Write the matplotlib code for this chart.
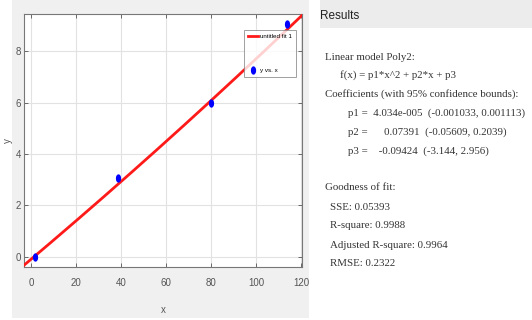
import numpy as np
import matplotlib.pyplot as plt
from matplotlib.patches import Rectangle

# data points
x_data = [1.8, 38.8, 79.8, 114.0]
y_data = [0.0, 3.05, 5.98, 9.05]

# fitted poly2 coefficients
p1, p2, p3 = 4.034e-05, 0.07391, -0.09424

xticks = [0, 20, 40, 60, 80, 100, 120]
yticks = [0, 2, 4, 6, 8]

result_lines = [
    ("Linear model Poly2:", 325, 57),
    ("f(x) = p1*x^2 + p2*x + p3", 340, 75),
    ("Coefficients (with 95% confidence bounds):", 325, 94),
    ("p1 =  4.034e-005  (-0.001033, 0.001113)", 348, 113),
    ("p2 =      0.07391  (-0.05609, 0.2039)", 348, 132),
    ("p3 =    -0.09424  (-3.144, 2.956)", 348, 151),
    ("Goodness of fit:", 325, 188),
    ("SSE: 0.05393", 330, 207),
    ("R-square: 0.9988", 330, 226),
    ("Adjusted R-square: 0.9964", 330, 245),
    ("RMSE: 0.2322", 330, 264),
]

W, H = 532, 320
fig = plt.figure(figsize=(W / 100, H / 100), dpi=100)
fig.patch.set_facecolor('white')

def px(x0, y0, x1, y1):
    # pixel box (top-left origin) -> figure fraction rect
    return [x0 / W, 1 - y1 / H, (x1 - x0) / W, (y1 - y0) / H]

# gray panel behind the plot
fig.patches.append(Rectangle((12 / W, 1 - 318 / H), (309 - 12) / W, 318 / H,
                             transform=fig.transFigure, facecolor='#f0f0f0',
                             edgecolor='none', zorder=-10))
# results header band
fig.patches.append(Rectangle((320 / W, 1 - 28 / H), (W - 320) / W, 28 / H,
                             transform=fig.transFigure, facecolor='#ececec',
                             edgecolor='none', zorder=-10))

tick_font = ['Liberation Sans Narrow', 'Liberation Sans', 'DejaVu Sans']
ax = fig.add_axes(px(24, 14, 302, 267))
ax.set_facecolor('white')

xx = np.linspace(-3.2, 121, 200)
ax.plot(xx, p1 * xx**2 + p2 * xx + p3, color='#ff1a1a', lw=2.0, label='untitled fit 1', zorder=3)

ell = np.linspace(0, 2 * np.pi, 30)
ell_marker = np.column_stack([0.55 * np.cos(ell), np.sin(ell)])
ax.plot(x_data, y_data, linestyle='none', marker=ell_marker, markersize=5,
        color='#0000ff', label='y vs. x', zorder=4)

ax.set_xlim(-3.2, 120.5)
ax.set_ylim(-0.4, 9.45)
ax.set_xticks(xticks)
ax.set_yticks(yticks)
ax.grid(True, color='#e2e2e2', lw=0.8)
ax.set_axisbelow(True)
ax.tick_params(direction='in', length=3, width=0.6, top=True, right=True,
               labelsize=7, colors='#555555')
ax.tick_params(axis='x', pad=8)
ax.tick_params(axis='y', pad=2)
for lab in ax.get_xticklabels() + ax.get_yticklabels():
    lab.set_family(tick_font)
for s in ax.spines.values():
    s.set_color('#777777')
    s.set_linewidth(0.8)

ax.set_xlabel('x', fontsize=7, color='#555555', family=tick_font, labelpad=12)
ax.set_ylabel('y', fontsize=7, color='#555555', family=tick_font)
ax.yaxis.set_label_coords(-0.04, 0.5)

leg = ax.legend(loc='upper right', bbox_to_anchor=(0.978, 0.937),
                frameon=True, fancybox=False, handlelength=1.6, borderpad=0.6,
                labelspacing=4.6, handletextpad=0.4, borderaxespad=0,
                prop={'family': tick_font, 'size': 4.5})
leg.get_frame().set_edgecolor('#888888')
leg.get_frame().set_linewidth(0.7)

serif = ['Liberation Serif', 'DejaVu Serif']
fig.text(320 / W, 1 - 16 / H, 'Results', fontsize=8.5, family=tick_font,
         color='#222222', va='center', ha='left')
for txt, x0, y0 in result_lines:
    fig.text(x0 / W, 1 - y0 / H, txt, fontsize=7.8, family=serif,
             color='#333333', va='center', ha='left')

fig.savefig('out.png', dpi=100)
